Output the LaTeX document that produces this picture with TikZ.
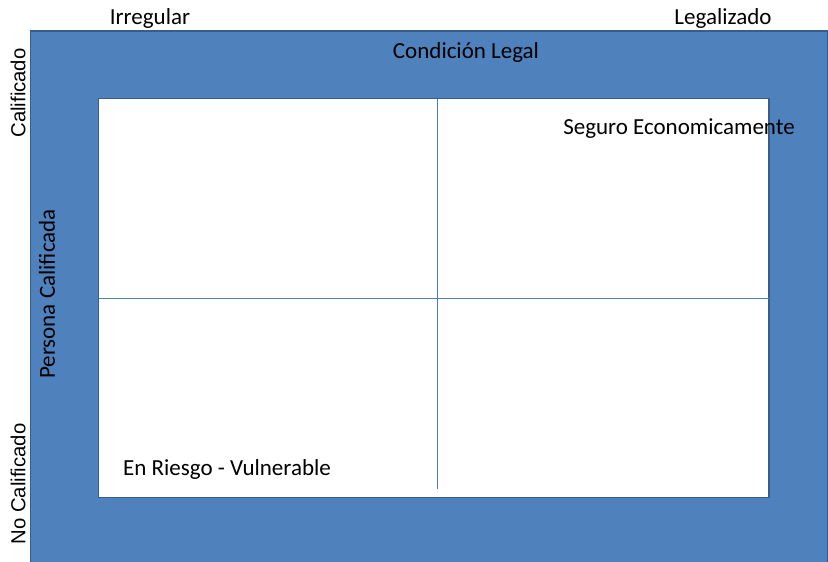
\documentclass[tikz,border=0pt]{standalone}
\usepackage{fontspec}
\setmainfont{Carlito}
\newfontfamily\arialf{Liberation Sans}
\definecolor{frameblue}{HTML}{4F81BD}
\definecolor{edgeblue}{HTML}{385D8A}
\definecolor{lineblue}{HTML}{4A7EBB}
\tikzset{
  cal/.style={font=\fontsize{23}{27}\selectfont, inner sep=0pt, anchor=center},
  ari/.style={font=\arialf\fontsize{20.3}{24}\selectfont, inner sep=0pt, anchor=center, rotate=90},
}
\begin{document}
\begin{tikzpicture}[x=1pt,y=-1pt]
\useasboundingbox (0,0) rectangle (828,562);
\fill[white] (0,0) rectangle (828,562);
% outer frame
\draw[fill=frameblue, draw=edgeblue, line width=1.2pt] (30.5,31) rectangle (827.5,563);
% inner white area
\draw[fill=white, draw=edgeblue, line width=1.5pt] (98.5,98.5) rectangle (769,497.5);
\coordinate (vt) at (437,98.5);
\coordinate (vb) at (437,489);
\coordinate (hl) at (98.5,298);
\coordinate (hr) at (769,298);
\draw[lineblue, line width=1pt] (vt) -- (vb);
\draw[frameblue, line width=1pt] (hl) -- (hr);
% labels
\node[cal] (irr) at (150,18) {Irregular};
\node[cal] (leg) at (723,18) {Legalizado};
\node[cal] (cond) at (466,52) {Condición Legal};
\node[cal] (seg) at (679,129) {Seguro Economicamente};
\node[cal] (rie) at (227,469) {En Riesgo - Vulnerable};
\node[cal, rotate=90] (per) at (47,294) {Persona Calificada};
\node[ari] (cali) at (18,93) {Calificado};
\node[ari] (nocali) at (18,484) {No Calificado};
\end{tikzpicture}
\end{document}
